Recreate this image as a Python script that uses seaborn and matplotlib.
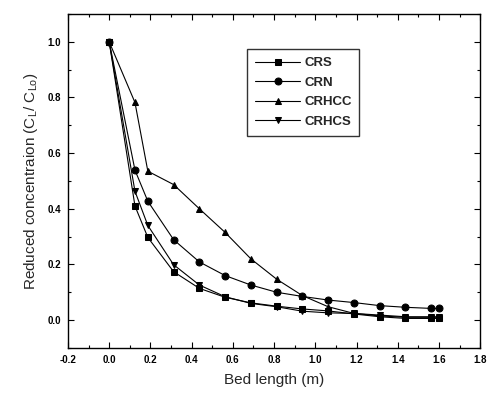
import matplotlib
matplotlib.use("Agg")
import matplotlib.pyplot as plt
import seaborn as sns
import pandas as pd
from matplotlib.ticker import MultipleLocator

bed_length = [0.0, 0.125, 0.1875, 0.3125, 0.4375, 0.5625, 0.6875, 0.8125,
              0.9375, 1.0625, 1.1875, 1.3125, 1.4375, 1.5625, 1.6]
crs   = [1.0, 0.41, 0.297, 0.174, 0.114, 0.082, 0.062, 0.05, 0.04, 0.033, 0.022, 0.012, 0.006, 0.006, 0.006]
crn   = [1.0, 0.539, 0.427, 0.289, 0.209, 0.16, 0.126, 0.10, 0.085, 0.072, 0.063, 0.052, 0.046, 0.042, 0.042]
crhcc = [1.0, 0.782, 0.535, 0.487, 0.40, 0.315, 0.22, 0.147, 0.088, 0.048, 0.024, 0.015, 0.01, 0.01, 0.01]
crhcs = [1.0, 0.463, 0.34, 0.199, 0.126, 0.084, 0.06, 0.048, 0.032, 0.026, 0.024, 0.018, 0.012, 0.012, 0.012]
series_names = ["CRS", "CRN", "CRHCC", "CRHCS"]

rows = []
for name, vals in zip(series_names, [crs, crn, crhcc, crhcs]):
    for x, y in zip(bed_length, vals):
        rows.append({"Bed length": x, "C": y, "Series": name})
df = pd.DataFrame(rows)

sns.set_theme(style="ticks")
plt.rcParams['font.family'] = ['Liberation Sans', 'DejaVu Sans']
plt.rcParams['axes.unicode_minus'] = False
plt.rcParams['mathtext.fontset'] = 'custom'
plt.rcParams['mathtext.rm'] = 'Liberation Sans'
plt.rcParams['mathtext.it'] = 'Liberation Sans'

fig = plt.figure(figsize=(4.89, 3.99), dpi=100)
ax = fig.add_axes([0.139, 0.128, 0.843, 0.837])

markers = {"CRS": "s", "CRN": "o", "CRHCC": "^", "CRHCS": "v"}
sns.lineplot(data=df, x="Bed length", y="C", style="Series", markers=markers,
             dashes=False, color="black", linewidth=0.8, markersize=5,
             markeredgecolor="black", ax=ax, sort=False)

ax.set_xlim(-0.2, 1.8)
ax.set_ylim(-0.1, 1.1)
ax.xaxis.set_major_locator(MultipleLocator(0.2))
ax.xaxis.set_minor_locator(MultipleLocator(0.1))
ax.set_yticks([0.0, 0.2, 0.4, 0.6, 0.8, 1.0])
ax.set_yticks([-0.1, 0.1, 0.3, 0.5, 0.7, 0.9, 1.1], minor=True)
ax.tick_params(which="both", direction="in", top=True, right=True, width=0.8, colors="black")
ax.tick_params(which="major", length=4, labelsize=7, pad=5)
ax.tick_params(which="minor", length=2.5)
for lab in ax.get_xticklabels() + ax.get_yticklabels():
    lab.set_fontweight("bold")
for sp in ax.spines.values():
    sp.set_linewidth(1.0)
    sp.set_color("black")

ax.set_xlabel("Bed length (m)", fontsize=11, labelpad=6)
ax.set_ylabel("Reduced concentraion (C$_L$/ C$_{Lo}$)", fontsize=11, labelpad=5)

leg = ax.legend(loc="upper left", bbox_to_anchor=(0.435, 0.895), frameon=True,
                fancybox=False, edgecolor="black", handlelength=3.4,
                prop={"size": 9.5, "weight": "bold"},
                borderpad=0.6, labelspacing=0.55, handletextpad=0.3, borderaxespad=0)
leg.get_frame().set_linewidth(1.0)

fig.savefig("out.png", dpi=100)
